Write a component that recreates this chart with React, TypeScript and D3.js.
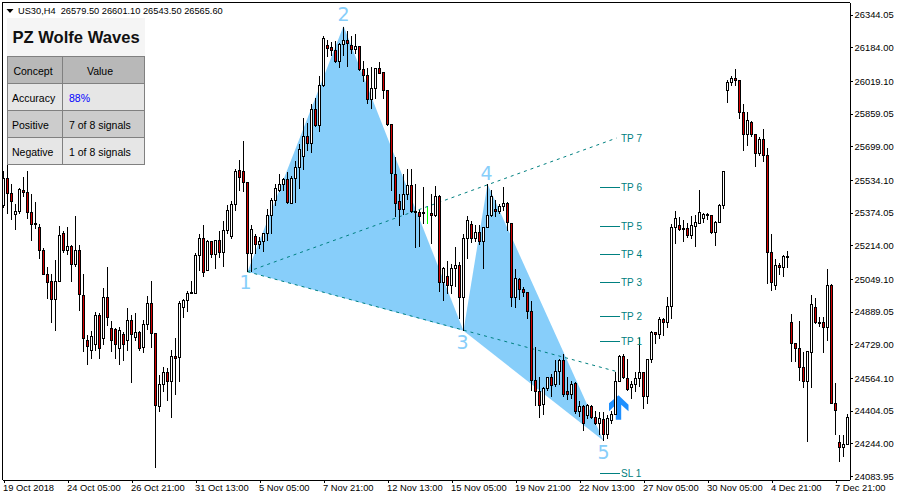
import React, { useEffect, useRef } from 'react';
import * as d3 from 'd3';

const opens = [
  25408, 25543, 25469, 25364, 25378, 25484, 25474, 25376, 25322, 25303, 25190, 25072, 25038, 24950, 25038, 25273,
  25188, 25210, 25118, 25190, 24969, 24750, 24701, 24726, 24871, 24760, 24960, 24808, 24803, 24711, 24775, 24750,
  24847, 24764, 24788, 24715, 24827, 24930, 24783, 24426, 24533, 24592, 24546, 24671, 24666, 24909, 24943, 24982,
  24979, 25165, 25249, 25093, 25234, 25170, 25239, 25178, 25289, 25260, 25412, 25579, 25577, 25523, 25175, 25259,
  25217, 25232, 25270, 25361, 25435, 25484, 25513, 25538, 25420, 25543, 25595, 25651, 25749, 25712, 25881, 25801,
  25997, 26194, 26185, 26170, 26116, 26199, 26219, 26194, 26175, 26190, 26077, 26047, 25930, 25984, 26082, 26062,
  25974, 25805, 25562, 25430, 25389, 25464, 25508, 25381, 25376, 25373, 25371, 25371, 25361, 25455, 25033, 25062,
  25018, 25102, 25116, 24960, 25249, 25317, 25247, 25278, 25234, 25303, 25361, 25391, 25379, 25406, 25420, 25322,
  24960, 25048, 24999, 24984, 24891, 24551, 24500, 24433, 24512, 24568, 24530, 24597, 24651, 24499, 24484, 24538,
  24399, 24424, 24380, 24424, 24372, 24339, 24363, 24286, 24355, 24383, 24546, 24671, 24563, 24517, 24533, 24563,
  24592, 24475, 24656, 24788, 24776, 24852, 24835, 24916, 25303, 25312, 25298, 25298, 25263, 25308, 25322, 25347,
  25366, 25361, 25278, 25327, 25410, 25972, 26013, 26033, 26023, 25866, 25758, 25817, 25758, 25665, 25734, 25655,
  25180, 25018, 25116, 25107, 25161, 24837, 24734, 24710, 24617, 24546, 24690, 24911, 24837, 24837, 24811, 25018,
  24440, 24249, 24223, 24239,
];
const highs = [
  25579, 25608, 25515, 25417, 25499, 25554, 25583, 25469, 25430, 25322, 25205, 25112, 25077, 25147, 25312, 25286,
  25309, 25216, 25361, 25219, 25077, 24775, 24799, 24892, 24883, 25010, 25112, 24848, 24811, 24819, 24790, 24912,
  24876, 24886, 24799, 24852, 24969, 25043, 24783, 24582, 24623, 24617, 24705, 24764, 24946, 24955, 24994, 25043,
  25180, 25273, 25314, 25245, 25235, 25240, 25285, 25338, 25412, 25436, 25593, 25637, 25730, 25523, 25317, 25270,
  25260, 25276, 25397, 25450, 25518, 25564, 25548, 25574, 25557, 25632, 25714, 25842, 25814, 25910, 25941, 26047,
  26245, 26224, 26212, 26217, 26207, 26289, 26265, 26245, 26253, 26196, 26121, 26088, 26092, 26083, 26116, 26065,
  25979, 25805, 25649, 25466, 25564, 25592, 25592, 25515, 25392, 25505, 25407, 25469, 25508, 25461, 25113, 25139,
  25123, 25211, 25133, 25270, 25361, 25337, 25317, 25317, 25308, 25515, 25489, 25440, 25420, 25504, 25430, 25322,
  25102, 25058, 25012, 24989, 24943, 24718, 24571, 24522, 24571, 24587, 24656, 24661, 24685, 24571, 24554, 24546,
  24452, 24432, 24440, 24432, 24407, 24399, 24399, 24383, 24407, 24595, 24677, 24682, 24661, 24554, 24595, 24764,
  24595, 24656, 24795, 24791, 24865, 24862, 24966, 25322, 25383, 25357, 25342, 25327, 25361, 25366, 25490, 25376,
  25376, 25366, 25337, 25420, 25583, 26028, 26049, 26082, 26028, 25910, 25871, 25827, 25763, 25749, 25788, 25695,
  25273, 25151, 25131, 25170, 25187, 24878, 24736, 24848, 24692, 24701, 24974, 24958, 24865, 24865, 25102, 25028,
  24543, 24285, 24285, 24391,
];
const lows = [
  25399, 25368, 25343, 25291, 25368, 25453, 25348, 25237, 25299, 25149, 25069, 24953, 24835, 24799, 25035, 25178,
  25170, 25036, 25110, 24897, 24692, 24628, 24662, 24701, 24662, 24726, 24820, 24692, 24662, 24628, 24652, 24701,
  24541, 24750, 24701, 24688, 24804, 24713, 24125, 24399, 24497, 24452, 24370, 24482, 24545, 24863, 24888, 24979,
  24978, 25089, 25061, 25090, 25154, 25100, 25154, 25110, 25270, 25250, 25387, 25485, 25476, 25085, 25085, 25172,
  25198, 25183, 25240, 25270, 25408, 25476, 25485, 25417, 25417, 25422, 25494, 25587, 25681, 25668, 25796, 25771,
  25992, 26142, 26147, 26109, 26085, 26145, 26090, 26155, 26155, 26070, 26016, 25910, 25886, 25935, 26054, 25935,
  25802, 25482, 25355, 25312, 25363, 25440, 25374, 25203, 25211, 25319, 25320, 25221, 25355, 24987, 24943, 24976,
  24979, 25012, 24858, 24796, 25149, 25227, 25232, 25217, 25102, 25301, 25355, 25355, 25371, 25384, 25286, 24917,
  24911, 24950, 24963, 24857, 24502, 24427, 24370, 24383, 24505, 24473, 24522, 24530, 24473, 24461, 24463, 24388,
  24375, 24309, 24367, 24367, 24334, 24285, 24257, 24269, 24342, 24383, 24546, 24563, 24502, 24465, 24497, 24522,
  24416, 24437, 24639, 24731, 24760, 24772, 24811, 24855, 25222, 25286, 25234, 25254, 25247, 25208, 25319, 25327,
  25342, 25271, 25212, 25324, 25396, 25913, 25997, 26000, 25835, 25678, 25702, 25747, 25600, 25653, 25624, 25028,
  24992, 25000, 25069, 25061, 25108, 24647, 24644, 24554, 24519, 24252, 24517, 24832, 24816, 24688, 24746, 24440,
  24285, 24154, 24179, 24239,
];
const closes = [
  25543, 25467, 25430, 25381, 25489, 25472, 25374, 25317, 25315, 25190, 25072, 25033, 24950, 25038, 25263, 25188,
  25210, 25121, 25187, 24972, 24760, 24721, 24770, 24871, 24711, 24960, 24862, 24750, 24726, 24795, 24726, 24847,
  24778, 24788, 24711, 24827, 24930, 24781, 24430, 24533, 24592, 24545, 24671, 24659, 24930, 24945, 24979, 24984,
  25165, 25249, 25080, 25234, 25170, 25239, 25178, 25289, 25387, 25412, 25574, 25549, 25521, 25175, 25293, 25217,
  25234, 25270, 25361, 25435, 25494, 25513, 25538, 25422, 25543, 25597, 25685, 25749, 25712, 25881, 25801, 25998,
  26229, 26181, 26168, 26116, 26199, 26219, 26202, 26175, 26190, 26075, 26047, 25930, 25984, 26082, 26057, 25974,
  25805, 25567, 25420, 25389, 25464, 25508, 25379, 25374, 25355, 25370, 25371, 25361, 25455, 25033, 25102, 25018,
  25102, 25116, 24960, 25249, 25337, 25249, 25278, 25234, 25304, 25361, 25455, 25379, 25406, 25420, 25327, 24960,
  25053, 24999, 24982, 24889, 24551, 24500, 24430, 24512, 24568, 24528, 24597, 24651, 24484, 24484, 24533, 24399,
  24424, 24342, 24430, 24372, 24342, 24367, 24286, 24367, 24386, 24548, 24671, 24568, 24509, 24533, 24563, 24592,
  24475, 24656, 24788, 24776, 24852, 24835, 24916, 25303, 25347, 25291, 25291, 25263, 25312, 25327, 25376, 25366,
  25361, 25278, 25327, 25410, 25578, 26013, 26033, 26023, 25866, 25758, 25827, 25758, 25665, 25734, 25653, 25180,
  25033, 25116, 25107, 25161, 25156, 24734, 24710, 24615, 24546, 24696, 24925, 24837, 24835, 24811, 25018, 24440,
  24404, 24223, 24239, 24372,
];

const priceTicks = [
  26344.05, 26184.0, 26019.1, 25859.05, 25699.0, 25534.1, 25374.05, 25214.0, 25049.1, 24889.05, 24729.0, 24564.1,
  24404.05, 24244.0, 24083.95,
];
const timeTicks = [0, 16, 32, 48, 64, 80, 96, 112, 128, 144, 160, 176, 192, 208];
const timeLabels = [
  '19 Oct 2018', '24 Oct 05:00', '26 Oct 21:00', '31 Oct 13:00', '5 Nov 05:00', '7 Nov 21:00', '12 Nov 13:00',
  '15 Nov 05:00', '19 Nov 21:00', '22 Nov 13:00', '27 Nov 05:00', '30 Nov 05:00', '4 Dec 21:00', '7 Dec 21:00',
];

// wolfe wave pivots 1..5
const waveIndex = [61, 85, 115, 121, 150];
const wavePrice = [25085, 26289, 24796, 25515, 24257];

// dashed targets: 1-4 projected, 1-3 projected
const targetLineIndex = [61, 153.25];
const targetLinePrice = [25085, 25740];
const baseLinePrice = [25085, 24596];

const tpNames = ['TP 1', 'TP 2', 'TP 3', 'TP 4', 'TP 5', 'TP 6', 'SL 1'];
const tpPrices = [24744, 24866, 25033, 25170, 25307, 25499, 24097];
const tpFrom = 149;
const tpTo = 154;

const tableHead = ['Concept', 'Value'];
const tableRows = [
  ['Accuracy', '88%'],
  ['Positive', '7 of 8 signals'],
  ['Negative', '1 of 8 signals'],
];

const TEAL = '#008080';
const SKY = '#87cefa';
const AXIS_FONT = '"Liberation Sans", Arial, sans-serif';

export default function App() {
  const svgRef = useRef<SVGSVGElement>(null);

  useEffect(() => {
    if (!svgRef.current) return;
    const svg = d3.select(svgRef.current);
    svg.selectAll('*').remove();

    const left = 2.5;
    const right = 849.5;
    const top = 2.5;
    const bottom = 479.5;

    const x = d3.scaleLinear().domain([0, 211]).range([3.5, 847.5]);
    const y = d3.scaleLinear().domain([24083.95, 26344.05]).range([476, 14.8]);

    // filled triangles 1-2-3 and 3-4-5
    const poly = d3.line<number>().x(i => x(waveIndex[i])).y(i => y(wavePrice[i]));
    svg.append('path').attr('d', poly([0, 1, 2]) + 'Z').attr('fill', SKY);
    svg.append('path').attr('d', poly([2, 3, 4]) + 'Z').attr('fill', SKY);

    // signal arrow
    const tip: [number, number] = [x(153.75), y(24480)];
    const arrow = [[0, 0], [10, 9.5], [10, 16], [2.7, 9.5], [2.7, 24.5], [-2.7, 24.5], [-2.7, 9.5], [-9.5, 16], [-9.5, 8]];
    svg.append('polygon')
      .attr('points', arrow.map(p => `${tip[0] + p[0]},${tip[1] + p[1]}`).join(' '))
      .attr('fill', '#1e90ff');

    // dashed lines
    [targetLinePrice, baseLinePrice].forEach(prices => {
      svg.append('line')
        .attr('x1', x(targetLineIndex[0]))
        .attr('y1', y(prices[0]))
        .attr('x2', x(targetLineIndex[1]))
        .attr('y2', y(prices[1]))
        .attr('stroke', TEAL)
        .attr('stroke-width', 1)
        .attr('stroke-dasharray', '3,4');
    });

    // candles
    const candles = svg.append('g').attr('shape-rendering', 'crispEdges');
    const px = (v: number) => Math.floor(y(v)) + 0.5;
    opens.forEach((open, i) => {
      const close = closes[i];
      const cx = x(i);
      const doji = open === close;
      candles.append('line')
        .attr('x1', cx)
        .attr('x2', cx)
        .attr('y1', px(highs[i]))
        .attr('y2', px(lows[i]) + 0.5)
        .attr('stroke', doji ? '#00ff00' : '#000');
      candles.append('rect')
        .attr('x', cx - 1)
        .attr('width', 2)
        .attr('y', px(Math.max(open, close)))
        .attr('height', Math.max(px(Math.min(open, close)) - px(Math.max(open, close)), doji ? 0 : 1))
        .attr('fill', close < open ? '#d40000' : '#fff')
        .attr('stroke', doji ? '#00ff00' : '#000');
    });

    // frame
    svg.append('path')
      .attr('d', `M${left},${bottom}V${top}H${right}`)
      .attr('fill', 'none')
      .attr('stroke', '#000')
      .attr('shape-rendering', 'crispEdges');

    // axes
    const yAxis = svg.append('g')
      .attr('transform', `translate(${right},0)`)
      .call(d3.axisRight(y).tickValues(priceTicks).tickSize(3).tickPadding(2).tickSizeOuter(0).tickFormat(d => (d as number).toFixed(2)));
    yAxis.select('.domain').attr('d', `M0.5,${top}V${bottom}`).attr('stroke', '#000');
    yAxis.selectAll('text').attr('fill', '#000').style('font-family', AXIS_FONT).style('font-size', '9.4px');
    yAxis.attr('shape-rendering', 'crispEdges');

    const xAxis = svg.append('g')
      .attr('transform', `translate(0,${bottom})`)
      .call(d3.axisBottom(x).tickValues(timeTicks).tickSize(3).tickSizeOuter(0).tickFormat((_, i) => timeLabels[i]));
    xAxis.select('.domain').attr('d', `M${left},0.5H${right}`).attr('stroke', '#000');
    xAxis.selectAll('text')
      .attr('fill', '#000')
      .attr('text-anchor', 'start')
      .attr('x', -1)
      .attr('y', 5)
      .style('font-family', AXIS_FONT)
      .style('font-size', '9.4px');
    xAxis.attr('shape-rendering', 'crispEdges');

    // header line
    svg.append('path').attr('d', 'M6.5,9H13.5L10,13Z').attr('fill', '#000');
    svg.append('text')
      .attr('x', 18)
      .attr('y', 14)
      .style('font-family', AXIS_FONT)
      .style('font-size', '9.25px')
      .style('white-space', 'pre')
      .text('US30,H4  26579.50 26601.10 26543.50 26565.60');

    // wave numbers
    const numberOffset = [[-2, 17], [0, -5], [-1, 18], [-1, -4], [0, 18]];
    waveIndex.forEach((idx, i) => {
      svg.append('text')
        .attr('x', x(idx) + numberOffset[i][0])
        .attr('y', y(wavePrice[i]) + numberOffset[i][1])
        .attr('text-anchor', 'middle')
        .attr('fill', SKY)
        .style('font-family', '"DejaVu Sans", sans-serif')
        .style('font-size', '19px')
        .text(i + 1);
    });

    // take profit levels
    tpNames.forEach((name, i) => {
      svg.append('line')
        .attr('x1', x(tpFrom))
        .attr('x2', x(tpTo))
        .attr('y1', px(tpPrices[i]))
        .attr('y2', px(tpPrices[i]))
        .attr('stroke', TEAL)
        .attr('shape-rendering', 'crispEdges');
      svg.append('text')
        .attr('x', 621)
        .attr('y', y(tpPrices[i]) + 3.5)
        .attr('fill', TEAL)
        .style('font-family', AXIS_FONT)
        .style('font-size', '10px')
        .text(name);
    });
    svg.append('text')
      .attr('x', 621)
      .attr('y', y(targetLinePrice[1]) + 3.5)
      .attr('fill', TEAL)
      .style('font-family', AXIS_FONT)
      .style('font-size', '10px')
      .text('TP 7');

    // stats panel
    const panel = svg.append('g');
    panel.append('rect').attr('x', 7).attr('y', 18).attr('width', 138).attr('height', 38).attr('fill', '#f5f5f5');
    panel.append('text')
      .attr('x', 76)
      .attr('y', 43)
      .attr('text-anchor', 'middle')
      .attr('fill', '#111')
      .style('font-family', AXIS_FONT)
      .style('font-weight', 'bold')
      .style('font-size', '16.6px')
      .text('PZ Wolfe Waves');

    const colX = [7.5, 62.5, 144.5];
    const headX = [33, 100];
    const rowY = [56.5, 83.5, 110.5, 137.5, 164.5];
    const rowFill = ['#b8b8b8', '#e6e6e6', '#cccccc', '#e6e6e6'];
    [tableHead, ...tableRows].forEach((row, r) => {
      row.forEach((cell, c) => {
        panel.append('rect')
          .attr('x', colX[c])
          .attr('y', rowY[r])
          .attr('width', colX[c + 1] - colX[c])
          .attr('height', rowY[r + 1] - rowY[r])
          .attr('fill', rowFill[r])
          .attr('stroke', '#808080')
          .attr('shape-rendering', 'crispEdges');
        panel.append('text')
          .attr('x', r === 0 ? headX[c] : colX[c] + (c === 0 ? 4.5 : 6.5))
          .attr('y', rowY[r] + 18)
          .attr('text-anchor', r === 0 ? 'middle' : 'start')
          .attr('fill', cell === '88%' ? '#0000ff' : '#000')
          .style('font-family', AXIS_FONT)
          .style('font-size', '10.5px')
          .text(cell);
      });
    });
  }, []);

  return (
    <svg
      ref={svgRef}
      width={900}
      height={500}
      style={{ position: 'fixed', left: 0, top: 0, background: '#fff' }}
    />
  );
}
